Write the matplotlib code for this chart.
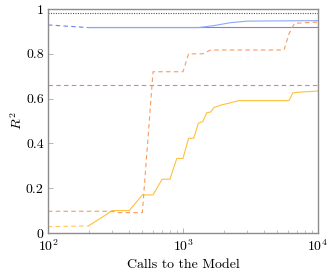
"""Recreate R^2 vs calls-to-the-model chart."""

import matplotlib

matplotlib.use("Agg")
import matplotlib.pyplot as plt

plt.rcParams["font.family"] = "serif"
plt.rcParams["font.serif"] = ["cmr10", "DejaVu Serif"]
plt.rcParams["mathtext.fontset"] = "cm"
plt.rcParams["axes.formatter.use_mathtext"] = True

# reference lines
gray_level = 0.983
pink_level = 0.659
purple_level = 0.918
purple_calls = [200, 10000]

# blue series
blue_dash_calls = [100, 200]
blue_dash_r2 = [0.929, 0.917]
blue_calls = [200, 1300, 1700, 2250, 3000, 10000]
blue_r2 = [0.917, 0.917, 0.926, 0.939, 0.946, 0.948]

# yellow series
yellow_dash_calls = [100, 200]
yellow_dash_r2 = [0.028, 0.032]
yellow_calls = [200, 300, 400, 500, 600, 700, 800, 900, 1000, 1100, 1200, 1300,
                1400, 1500, 1600, 1700, 1800, 1900, 2000, 2200, 2600, 6100,
                6500, 7000, 10000]
yellow_r2 = [0.032, 0.10, 0.10, 0.17, 0.17, 0.24, 0.24, 0.333, 0.333, 0.423,
             0.423, 0.49, 0.497, 0.537, 0.54, 0.561, 0.565, 0.571, 0.574,
             0.58, 0.591, 0.591, 0.625, 0.628, 0.634]

# orange series (dashed)
orange_calls = [100, 300, 330, 500, 600, 1000, 1100, 1400, 1600, 5600, 6100,
                6700, 10000]
orange_r2 = [0.097, 0.097, 0.091, 0.091, 0.72, 0.72, 0.80, 0.80, 0.817,
             0.817, 0.89, 0.936, 0.942]

fig = plt.figure(figsize=(3.33, 2.73), dpi=100)
ax = fig.add_axes([0.144, 0.1465, 0.811, 0.8205])

lw = 0.8
ax.axhline(gray_level, color="#555555", lw=lw, dashes=(1, 1.2))
ax.axhline(pink_level, color="#f070b0", lw=lw, dashes=(4, 3))
ax.plot(purple_calls, [purple_level] * len(purple_calls), color="#8a78ec", lw=lw)

ax.plot(blue_dash_calls, blue_dash_r2, color="#6f7ff0", lw=lw, dashes=(4, 3))
ax.plot(blue_calls, blue_r2, color="#8aa8fb", lw=lw)

ax.plot(yellow_dash_calls, yellow_dash_r2, color="#ffc84a", lw=lw, dashes=(4, 3))
ax.plot(yellow_calls, yellow_r2, color="#ffc03a", lw=lw)

ax.plot(orange_calls, orange_r2, color="#fb9a5c", lw=lw, dashes=(4, 3))

ax.set_xscale("log")
ax.set_xlim(100, 10000)
ax.set_ylim(0, 1)
ax.set_yticks([0, 0.2, 0.4, 0.6, 0.8, 1])
ax.set_yticklabels(["0", "0.2", "0.4", "0.6", "0.8", "1"])
ax.set_xlabel("Calls to the Model", fontsize=10, labelpad=3)
ax.set_ylabel("$R^2$", fontsize=10, labelpad=1)

for side in ax.spines.values():
    side.set_color("#8c8c8c")
    side.set_linewidth(1.0)
ax.tick_params(which="both", direction="in", labelsize=10, color="#aaaaaa")
ax.tick_params(which="major", length=3.5, width=0.6, pad=3)
ax.tick_params(axis="x", which="major", pad=4)
ax.tick_params(which="minor", length=2, width=0.5)
ax.tick_params(axis="y", which="minor", left=False)

fig.savefig("out.png", dpi=100)
